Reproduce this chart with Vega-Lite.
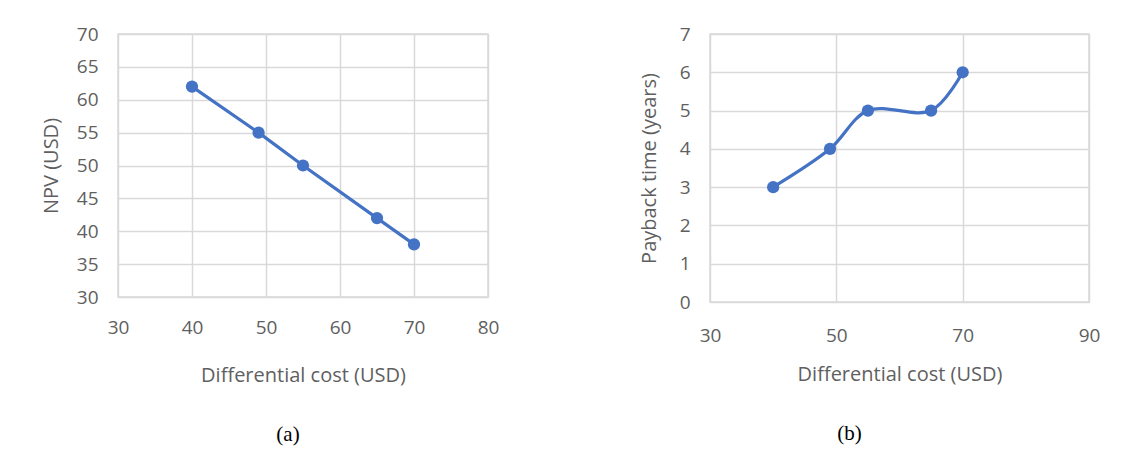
{
  "$schema": "https://vega.github.io/schema/vega-lite/v6.json",
  "background": "white",
  "padding": {"left": 40, "top": 24, "right": 5, "bottom": 5},
  "spacing": 138,
  "config": {
    "font": "Open Sans",
    "view": {"stroke": "#d9d9d9", "strokeWidth": 1.5},
    "axis": {
      "grid": true, "gridColor": "#d9d9d9", "gridWidth": 1.5,
      "domain": false, "ticks": false,
      "labelColor": "#5f5f5f", "titleColor": "#5f5f5f",
      "labelFont": "Open Sans", "titleFont": "Open Sans",
      "labelFontSize": 19, "titleFontSize": 20, "titleFontWeight": "normal",
      "labelOverlap": false, "labelFlush": false
    },
    "title": {"font": "Liberation Serif", "fontSize": 21, "fontWeight": "normal", "color": "black", "orient": "bottom", "offset": 39}
  },
  "hconcat": [
    {
      "width": 370, "height": 263,
      "title": {"text": "(a)", "dx": -15},
      "data": {"values": [
        {"cost": 40, "npv": 62},
        {"cost": 49, "npv": 55},
        {"cost": 55, "npv": 50},
        {"cost": 65, "npv": 42},
        {"cost": 70, "npv": 38}
      ]},
      "encoding": {
        "x": {"field": "cost", "type": "quantitative",
              "scale": {"domain": [30, 80], "nice": false, "zero": false},
              "axis": {"values": [30, 40, 50, 60, 70, 80], "title": "Differential cost (USD)", "labelPadding": 21, "titlePadding": 28}},
        "y": {"field": "npv", "type": "quantitative",
              "scale": {"domain": [30, 70], "nice": false, "zero": false},
              "axis": {"values": [30, 35, 40, 45, 50, 55, 60, 65, 70], "title": "NPV (USD)", "labelPadding": 20, "titlePadding": 15}}
      },
      "layer": [
        {"mark": {"type": "line", "color": "#4472C4", "strokeWidth": 3.2}, "encoding": {}},
        {"mark": {"type": "point", "filled": true, "opacity": 1, "size": 150, "color": "#4472C4"}}
      ]
    },
    {
      "width": 379, "height": 268,
      "title": {"text": "(b)", "dx": -50},
      "data": {"values": [
        {"cost": 40, "payback": 3},
        {"cost": 49, "payback": 4},
        {"cost": 55, "payback": 5},
        {"cost": 65, "payback": 5},
        {"cost": 70, "payback": 6}
      ]},
      "encoding": {
        "x": {"field": "cost", "type": "quantitative",
              "scale": {"domain": [30, 90], "nice": false, "zero": false},
              "axis": {"values": [30, 50, 70, 90], "title": "Differential cost (USD)", "labelPadding": 24, "titlePadding": 19}},
        "y": {"field": "payback", "type": "quantitative",
              "scale": {"domain": [0, 7], "nice": false, "zero": false},
              "axis": {"values": [0, 1, 2, 3, 4, 5, 6, 7], "title": "Payback time (years)", "labelPadding": 20, "titlePadding": 20}}
      },
      "layer": [
        {"mark": {"type": "line", "color": "#4472C4", "strokeWidth": 3.2, "interpolate": "catmull-rom"}, "encoding": {}},
        {"mark": {"type": "point", "filled": true, "opacity": 1, "size": 150, "color": "#4472C4"}}
      ]
    }
  ]
}
